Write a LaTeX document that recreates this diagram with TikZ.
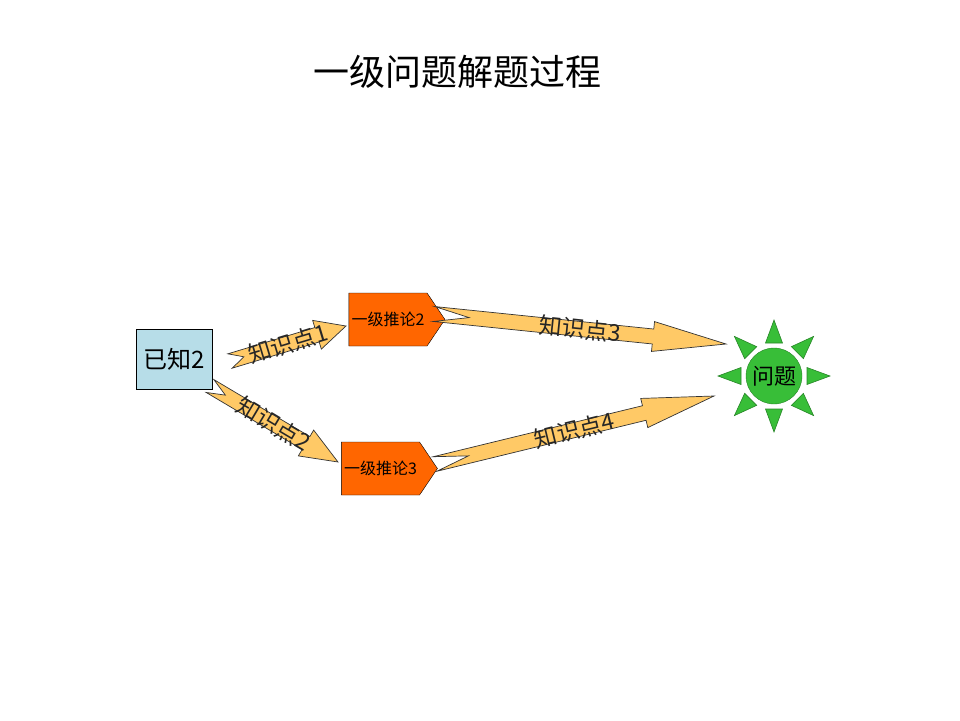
\documentclass[tikz,border=0pt]{standalone}
\usepackage{fontspec}
\setmainfont{Noto Sans CJK SC}
\usetikzlibrary{calc, shapes.symbols}

\definecolor{knownblue}{RGB}{183,221,232}
\definecolor{inferorange}{RGB}{255,102,0}
\definecolor{arrowfill}{RGB}{255,201,102}
\definecolor{goalgreen}{RGB}{56,190,56}

% notched arrow: tail, tip, label, name
\newcommand{\knowarrow}[4]{%
  \draw[arrowbody] ($(#1)!7.5pt!90:(#2)$)
    -- ($(#1)!0.75!(#2)!7.5pt!90:(#2)$)
    -- ($(#1)!0.75!(#2)!15pt!90:(#2)$)
    -- (#2)
    -- ($(#1)!0.75!(#2)!15pt!-90:(#2)$)
    -- ($(#1)!0.75!(#2)!7.5pt!-90:(#2)$)
    -- ($(#1)!7.5pt!-90:(#2)$)
    -- ($(#1)!0.12!(#2)$) -- cycle;
  \path (#1) -- (#2) node[midway, sloped, arrowlabel] (#4) {#3};
}

\begin{document}
\begin{tikzpicture}[
    x=1pt, y=-1pt,
    known/.style={
        draw,
        rectangle,
        fill=knownblue,
        minimum width=76pt,
        minimum height=60pt,
        font=\fontsize{24}{26}\selectfont
    },
    infer/.style={
        draw,
        signal,
        signal to=east,
        signal pointer angle=112,
        fill=inferorange,
        minimum width=96pt,
        minimum height=53pt,
        inner sep=0pt,
        font=\fontsize{16}{18}\selectfont
    },
    goal/.style={
        draw=goalgreen!70!black,
        circle,
        fill=goalgreen,
        minimum size=56pt,
        inner sep=0pt,
        font=\fontsize{22}{24}\selectfont
    },
    ray/.style={
        draw=goalgreen!70!black,
        fill=goalgreen,
        line width=0.6pt
    },
    arrowbody/.style={
        draw=black!80,
        fill=arrowfill,
        line width=0.7pt
    },
    arrowlabel/.style={
        inner sep=0pt,
        font=\fontsize{23}{25}\selectfont,
        text=black!85
    }
]
\useasboundingbox (0,0) rectangle (960,720);

% title
\node[font=\fontsize{36}{40}\selectfont] (title) at (457,72) {一级问题解题过程};

% nodes
\node[known] (known2) at (174,359) {已知2};
\node[infer] (infer2) at (388,319.5) {一级推论2};
\node[infer] (infer3) at (380.5,468.5) {一级推论3};
\node[goal] (goal) at (774,376) {问题};
\foreach \a in {0,45,...,315}
    \draw[ray] ($(goal)+(\a:33pt)+({\a+90}:8.5pt)$) -- ($(goal)+(\a:56pt)$)
        -- ($(goal)+(\a:33pt)+({\a-90}:8.5pt)$) -- cycle;

% arrow ends
\coordinate (t1) at (230,361);
\coordinate (h1) at (346,326);
\coordinate (t2) at (210,386);
\coordinate (h2) at (338,462);
\coordinate (t3) at (434,314);
\coordinate (h3) at (726,344);
\coordinate (t4) at (435,464);
\coordinate (h4) at (714,396);

% arrows
\knowarrow{t1}{h1}{知识点1}{k1}
\knowarrow{t2}{h2}{知识点2}{k2}
\knowarrow{t3}{h3}{知识点3}{k3}
\knowarrow{t4}{h4}{知识点4}{k4}
\end{tikzpicture}
\end{document}
